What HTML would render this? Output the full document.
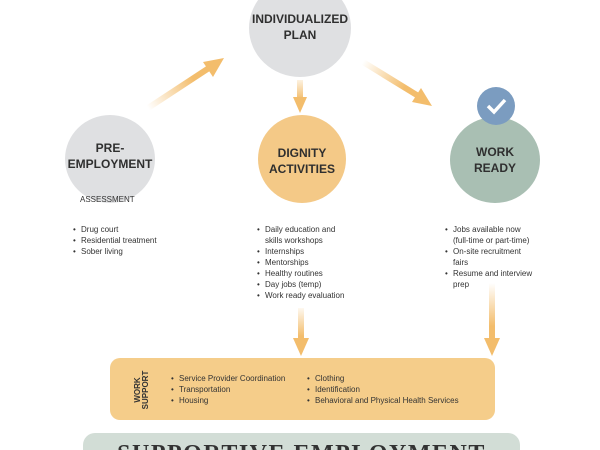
<!DOCTYPE html>
<html style="width:600px;height:450px;overflow:hidden"><head><meta charset="utf-8"><style>
html,body{margin:0;width:600px;height:450px;overflow:hidden}
body{background:#fff;font-family:"Liberation Sans",sans-serif;position:relative}
.a{position:absolute}
.c{position:absolute;border-radius:50%}
.t{position:absolute;text-align:center;font-weight:bold;color:#2f2f2f;font-size:12px;line-height:16px}
ul{position:absolute;margin:0;padding:0;list-style:none;font-size:8px;line-height:11px;color:#333}
li{padding-left:8px;position:relative;white-space:nowrap}
li:before{content:"•";position:absolute;left:0}
</style></head><body>
<div class="c" style="left:249px;top:-21px;width:102px;height:98px;background:#dfe0e2"></div>
<div class="t" style="left:230px;top:11px;width:140px;">INDIVIDUALIZED<br>PLAN</div>
<div class="c" style="left:65px;top:115px;width:90px;height:88px;background:#dfe0e2"></div>
<div class="t" style="left:60px;top:140px;width:100px;">PRE-<br>EMPLOYMENT</div>
<div class="a" style="left:80px;top:195px;font-size:8px;color:#333">ASSESSMENT</div>
<div class="c" style="left:258px;top:115px;width:88px;height:88px;background:#f4c987"></div>
<div class="t" style="left:252px;top:145px;width:100px;">DIGNITY<br>ACTIVITIES</div>
<div class="c" style="left:450px;top:117px;width:90px;height:86px;background:#a9bfb3"></div>
<div class="t" style="left:445px;top:144px;width:100px;">WORK<br>READY</div>
<div class="c" style="left:477px;top:87px;width:38px;height:38px;background:#7b9cc0"></div>
<svg class="a" style="left:0;top:0" width="600" height="450">
<defs>
<linearGradient id="g1" x1="148" y1="108" x2="223" y2="58" gradientUnits="userSpaceOnUse"><stop offset="0" stop-color="#f3bd6c" stop-opacity="0"/><stop offset="0.6" stop-color="#f3bd6c"/></linearGradient>
<linearGradient id="g2" x1="300" y1="80" x2="300" y2="112" gradientUnits="userSpaceOnUse"><stop offset="0" stop-color="#f3bd6c" stop-opacity="0.2"/><stop offset="0.6" stop-color="#f3bd6c"/></linearGradient>
<linearGradient id="g3" x1="363" y1="62" x2="432" y2="105" gradientUnits="userSpaceOnUse"><stop offset="0" stop-color="#f3bd6c" stop-opacity="0"/><stop offset="0.6" stop-color="#f3bd6c"/></linearGradient>
<linearGradient id="g4" x1="0" y1="308" x2="0" y2="355" gradientUnits="userSpaceOnUse"><stop offset="0" stop-color="#f3bd6c" stop-opacity="0.1"/><stop offset="0.6" stop-color="#f3bd6c"/></linearGradient>
<linearGradient id="g5" x1="0" y1="283" x2="0" y2="355" gradientUnits="userSpaceOnUse"><stop offset="0" stop-color="#f3bd6c" stop-opacity="0"/><stop offset="0.6" stop-color="#f3bd6c"/></linearGradient>
</defs>
<line x1="148" y1="108" x2="212" y2="66" stroke="url(#g1)" stroke-width="6"/>
<polygon points="224,58 203,62 213,77" fill="#f3bd6c"/>
<line x1="300" y1="80" x2="300" y2="100" stroke="url(#g2)" stroke-width="6"/>
<polygon points="293,97 307,97 300,113" fill="#f3bd6c"/>
<line x1="363" y1="62" x2="420" y2="97" stroke="url(#g3)" stroke-width="6"/>
<polygon points="432,106 421,88 412,102" fill="#f3bd6c"/>
<line x1="301" y1="308" x2="301" y2="342" stroke="url(#g4)" stroke-width="6"/>
<polygon points="293,338 309,338 301,356" fill="#f3bd6c"/>
<line x1="492" y1="283" x2="492" y2="342" stroke="url(#g5)" stroke-width="6"/>
<polygon points="484,338 500,338 492,356" fill="#f3bd6c"/>
<polyline points="488,106 494,112 505,100" fill="none" stroke="#fff" stroke-width="3.5"/>
</svg>
<ul style="left:73px;top:224px"><li>Drug court</li><li>Residential treatment</li><li>Sober living</li></ul>
<ul style="left:257px;top:224px"><li>Daily education and<br>skills workshops</li><li>Internships</li><li>Mentorships</li><li>Healthy routines</li><li>Day jobs (temp)</li><li>Work ready evaluation</li></ul>
<ul style="left:445px;top:224px"><li>Jobs available now<br>(full-time or part-time)</li><li>On-site recruitment<br>fairs</li><li>Resume and interview<br>prep</li></ul>
<div class="a" style="left:110px;top:358px;width:385px;height:62px;background:#f5cd8a;border-radius:10px"></div>
<div class="a" style="left:112px;top:382px;width:60px;height:16px;transform:rotate(-90deg);font-size:8px;line-height:8px;font-weight:bold;text-align:center;color:#333">WORK<br>SUPPORT</div>
<ul style="left:171px;top:373px"><li>Service Provider Coordination</li><li>Transportation</li><li>Housing</li></ul>
<ul style="left:307px;top:373px"><li>Clothing</li><li>Identification</li><li>Behavioral and Physical Health Services</li></ul>
<div class="a" style="left:83px;top:433px;width:437px;height:17px;background:#d2ddd6;border-radius:12px 12px 0 0;overflow:hidden">
<div style="position:absolute;left:0;top:7px;width:437px;text-align:center;font-family:'Liberation Serif',serif;font-weight:bold;font-size:24px;line-height:28px;letter-spacing:1.5px;color:#333;white-space:nowrap">SUPPORTIVE EMPLOYMENT</div>
</div>
</body></html>
